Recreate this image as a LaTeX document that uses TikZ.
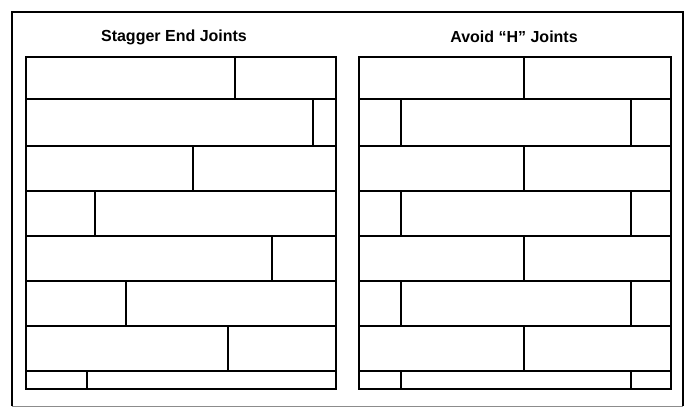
\documentclass[tikz,border=0pt]{standalone}
\usepackage{fontspec}
\setmainfont{Liberation Sans}
\begin{document}
\begin{tikzpicture}[x=1pt,y=-1pt,
  board/.style={line width=2pt, line join=miter},
  frameline/.style={line width=1.6pt},
  title/.style={font=\bfseries\fontsize{16}{18}\selectfont, inner sep=0pt}]
\useasboundingbox (0,0) rectangle (689,407);
\fill[white] (0,0) rectangle (689,407);
% outer frame
\draw[frameline] (12,406) -- (12,12) -- (683,12) -- (683,406);
\draw[line width=1pt, black!45] (12,406) -- (683,406);
% titles
\node[title] (t1) at (174,37) {Stagger End Joints};
\node[title] (t2) at (514,37) {Avoid “H” Joints};
% left panel
\draw[board] (26,57) rectangle (336,389);
\foreach \y in {99,146,191,236,281,326,371}
  \draw[board] (26,\y) -- (336,\y);
\draw[board] (235,57) -- (235,99);
\draw[board] (313,99) -- (313,146);
\draw[board] (193,146) -- (193,191);
\draw[board] (95,191) -- (95,236);
\draw[board] (272,236) -- (272,281);
\draw[board] (126,281) -- (126,326);
\draw[board] (228,326) -- (228,371);
\draw[board] (87,371) -- (87,389);
% right panel
\draw[board] (359,57) rectangle (671,389);
\foreach \y in {99,146,191,236,281,326,371}
  \draw[board] (359,\y) -- (671,\y);
\foreach \a/\b in {57/99,146/191,236/281,326/371}
  \draw[board] (524,\a) -- (524,\b);
\foreach \a/\b in {99/146,191/236,281/326,371/389}{
  \draw[board] (401,\a) -- (401,\b);
  \draw[board] (631,\a) -- (631,\b);
}
\end{tikzpicture}
\end{document}
